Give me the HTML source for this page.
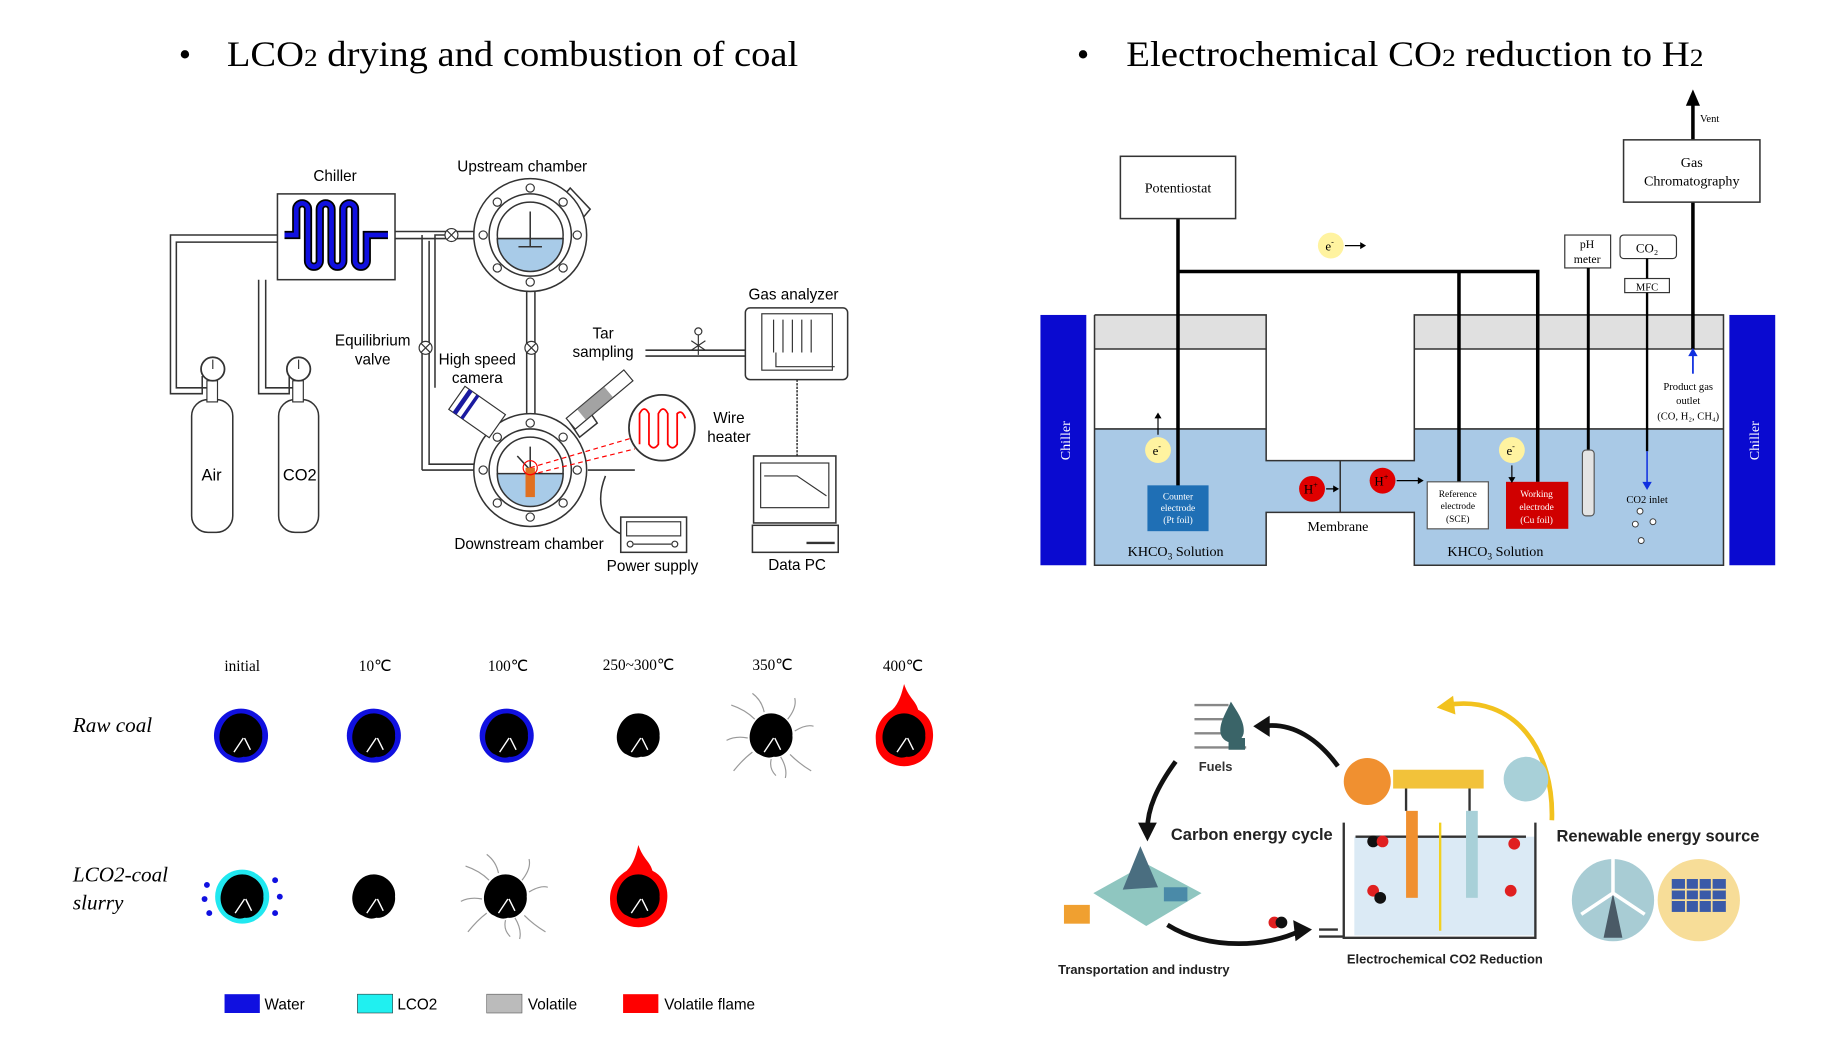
<!DOCTYPE html>
<html><head><meta charset="utf-8"><style>
html,body{margin:0;padding:0;background:#fff;overflow:hidden}
svg{display:block}
.s{font-family:"Liberation Sans",sans-serif}
.r{font-family:"Liberation Serif",serif}
</style></head><body>
<svg width="1834" height="1060" viewBox="0 0 1560 902" preserveAspectRatio="none" xmlns="http://www.w3.org/2000/svg">
<rect width="1560" height="902" fill="#fff"/>
<!-- titles -->
<text x="152" y="56" class="r" font-size="30">•</text>
<text x="193" y="56" class="r" font-size="31" textLength="486" lengthAdjust="spacingAndGlyphs">LCO<tspan font-size="22">2</tspan> drying and combustion of coal</text>
<text x="916" y="56" class="r" font-size="30">•</text>
<text x="958" y="56" class="r" font-size="31" textLength="491" lengthAdjust="spacingAndGlyphs">Electrochemical CO<tspan font-size="22">2</tspan> reduction to H<tspan font-size="22">2</tspan></text>

<!-- LEFT apparatus -->
<g fill="none" stroke="#333" stroke-width="1.3">
<path d="M236 200 H145 V335 H172 V320 M236 206 H150 V330 H176"/>
<path d="M220 238 V335 H246 V320 M226 238 V330 H250"/>
<path d="M336 197 H403 M336 203 H403"/>
<path d="M384 200 H370 V330 M359 200 V400 M359 400 H403 M365 205 V395 H403"/>
<path d="M448 248 V352 M455 248 V352"/>
<path d="M549 298 H634 M549 303 H634"/>
<path d="M678 323 V388" stroke-dasharray="2 1"/>
<path d="M500 400 H540 M515 405 C505 430 515 450 530 455"/>
</g>
<rect x="236" y="165" width="100" height="73" fill="#fff" stroke="#333" stroke-width="1.3"/>
<path d="M242 200 H252 V178 a5 5 0 0 1 10 0 V222 a5 5 0 0 0 10 0 V178 a5 5 0 0 1 10 0 V222 a5 5 0 0 0 10 0 V178 a5 5 0 0 1 10 0 V222 a5 5 0 0 0 10 0 V200 H330" fill="none" stroke="#000" stroke-width="7"/>
<path d="M242 200 H252 V178 a5 5 0 0 1 10 0 V222 a5 5 0 0 0 10 0 V178 a5 5 0 0 1 10 0 V222 a5 5 0 0 0 10 0 V178 a5 5 0 0 1 10 0 V222 a5 5 0 0 0 10 0 V200 H330" fill="none" stroke="#1010e0" stroke-width="4"/>
<text x="285" y="154" class="s" font-size="13" text-anchor="middle">Chiller</text>
<!-- cylinders -->
<rect x="163" y="340" width="35" height="113" rx="14" fill="#fff" stroke="#333" stroke-width="1.3"/>
<rect x="237" y="340" width="34" height="113" rx="14" fill="#fff" stroke="#333" stroke-width="1.3"/>
<rect x="176" y="324" width="9" height="18" fill="#fff" stroke="#333"/><rect x="249" y="324" width="9" height="18" fill="#fff" stroke="#333"/>
<circle cx="181" cy="314" r="10" fill="#fff" stroke="#333" stroke-width="1.5"/><circle cx="254" cy="314" r="10" fill="#fff" stroke="#333" stroke-width="1.5"/>
<path d="M181 314 V306 M254 314 V306" stroke="#333"/>
<text x="180" y="409" class="s" font-size="14" text-anchor="middle">Air</text>
<text x="255" y="409" class="s" font-size="14" text-anchor="middle">CO2</text>
<!-- chambers -->
<g stroke="#333" stroke-width="1.3" fill="#fff">
<path d="M485 160 L502 178 L492 190 L475 172Z"/>
<circle cx="451" cy="200" r="48"/><circle cx="451" cy="200" r="35"/><circle cx="451" cy="200" r="28"/>
<path d="M423 203 A28 28 0 0 0 479 203Z" fill="#a8cbe8"/>
<path d="M451 180 V210 M441 210 H461" fill="none"/>
<path d="M485 360 L500 348 L508 360 L493 372Z"/>
<circle cx="451" cy="400" r="48"/><circle cx="451" cy="400" r="35"/><circle cx="451" cy="400" r="28"/>
<path d="M423 403 A28 28 0 0 0 479 403Z" fill="#a8cbe8"/>
<path d="M451 380 V400 M451 400 L440 388" fill="none"/>
</g>
<g fill="#fff" stroke="#333"><circle cx="451" cy="160" r="3.5"/><circle cx="451" cy="240" r="3.5"/><circle cx="411" cy="200" r="3.5"/><circle cx="491" cy="200" r="3.5"/><circle cx="423" cy="172" r="3.5"/><circle cx="479" cy="172" r="3.5"/><circle cx="423" cy="228" r="3.5"/><circle cx="479" cy="228" r="3.5"/>
<circle cx="451" cy="360" r="3.5"/><circle cx="451" cy="440" r="3.5"/><circle cx="411" cy="400" r="3.5"/><circle cx="491" cy="400" r="3.5"/><circle cx="423" cy="372" r="3.5"/><circle cx="479" cy="372" r="3.5"/><circle cx="423" cy="428" r="3.5"/><circle cx="479" cy="428" r="3.5"/></g>
<rect x="447" y="398" width="8" height="25" fill="#e07020"/>
<circle cx="451" cy="398" r="6" fill="none" stroke="red"/>
<path d="M451 398 L540 372 M451 404 L540 382" stroke="red" stroke-dasharray="4 3"/>
<!-- valves -->
<g fill="#fff" stroke="#333"><circle cx="384" cy="200" r="5.5"/><circle cx="452" cy="296" r="5.5"/><circle cx="362" cy="296" r="5.5"/></g>
<path d="M380 196 l8 8 M388 196 l-8 8 M448 292 l8 8 M456 292 l-8 8 M358 292 l8 8 M366 292 l-8 8" stroke="#333"/>
<text x="389" y="146" class="s" font-size="13">Upstream chamber</text>
<text x="317" y="294" class="s" font-size="13" text-anchor="middle">Equilibrium</text>
<text x="317" y="310" class="s" font-size="13" text-anchor="middle">valve</text>
<text x="406" y="310" class="s" font-size="13" text-anchor="middle">High speed</text>
<text x="406" y="326" class="s" font-size="13" text-anchor="middle">camera</text>
<text x="513" y="288" class="s" font-size="13" text-anchor="middle">Tar</text>
<text x="513" y="304" class="s" font-size="13" text-anchor="middle">sampling</text>
<text x="450" y="467" class="s" font-size="13" text-anchor="middle">Downstream chamber</text>
<!-- camera -->
<g transform="rotate(35 405 350)"><rect x="385" y="338" width="42" height="24" fill="#fff" stroke="#333"/><rect x="389" y="338" width="4" height="24" fill="#1a1aa0"/><rect x="397" y="338" width="3" height="24" fill="#1a1aa0"/></g>
<!-- tar tube -->
<g transform="rotate(-40 510 340)"><rect x="478" y="334" width="64" height="12" fill="#fff" stroke="#333"/><rect x="490" y="334" width="30" height="12" fill="#666" opacity=".6"/></g>
<path d="M594 285 V302 M588 290 l12 8 M600 290 l-12 8" stroke="#333"/><circle cx="594" cy="282" r="3" fill="#fff" stroke="#333"/>
<!-- wire heater -->
<circle cx="563" cy="364" r="28" fill="#fff" stroke="#333" stroke-width="1.5"/>
<path d="M544 378 V352 Q548 344 552 352 V378 Q556 384 560 378 V352 Q564 344 568 352 V378 Q572 384 576 378 V352 Q580 348 583 356" fill="none" stroke="red" stroke-width="1.5"/>
<text x="620" y="360" class="s" font-size="13" text-anchor="middle">Wire</text>
<text x="620" y="376" class="s" font-size="13" text-anchor="middle">heater</text>
<!-- gas analyzer -->
<text x="675" y="255" class="s" font-size="13" text-anchor="middle">Gas analyzer</text>
<rect x="634" y="262" width="87" height="61" rx="4" fill="#fff" stroke="#333" stroke-width="1.3"/>
<rect x="648" y="267" width="60" height="48" fill="#fff" stroke="#333"/>
<path d="M658 272 V300 M666 272 V300 M674 272 V300 M682 272 V300 M690 272 V300 M660 300 V312 H710" fill="none" stroke="#333"/>
<!-- data PC -->
<rect x="641" y="388" width="70" height="57" fill="#fff" stroke="#333" stroke-width="1.3"/>
<rect x="647" y="394" width="58" height="38" fill="#fff" stroke="#333"/>
<path d="M650 405 H678 L703 422" fill="none" stroke="#333"/>
<rect x="640" y="447" width="73" height="23" fill="#fff" stroke="#333" stroke-width="1.3"/>
<path d="M686 462 H710" stroke="#333" stroke-width="2"/>
<text x="678" y="485" class="s" font-size="13" text-anchor="middle">Data PC</text>
<!-- power supply -->
<rect x="528" y="440" width="56" height="30" fill="#fff" stroke="#333" stroke-width="1.3"/>
<rect x="533" y="444" width="46" height="12" fill="#fff" stroke="#333"/>
<circle cx="536" cy="463" r="2.5" fill="none" stroke="#333"/><circle cx="574" cy="463" r="2.5" fill="none" stroke="#333"/><path d="M539 463 H571" stroke="#333"/>
<text x="555" y="486" class="s" font-size="13" text-anchor="middle">Power supply</text>

<!-- coal states -->
<g class="r" font-size="13" text-anchor="middle">
<text x="206" y="571">initial</text><text x="319" y="571">10℃</text><text x="432" y="571">100℃</text><text x="543" y="570">250~300℃</text><text x="657" y="570">350℃</text><text x="768" y="571">400℃</text>
</g>
<text x="62" y="623" class="r" font-size="18" font-style="italic">Raw coal</text>
<text x="62" y="750" class="r" font-size="18" font-style="italic">LCO2-coal</text>
<text x="62" y="774" class="r" font-size="18" font-style="italic">slurry</text>
<defs>
<g id="coal"><path d="M0 -19 C10 -19 19 -10 18 0 C19 8 12 19 2 18 C-4 20 -8 17 -12 15 C-18 10 -20 2 -17 -6 C-14 -14 -8 -19 0 -19Z" fill="#000"/><path d="M-6 14 L2 2 M8 12 L3 2" stroke="#fff" stroke-width="1.2"/></g>
<g id="smoke" fill="none" stroke="#999" stroke-width="1"><path d="M-14 -14 Q-22 -22 -34 -26 M14 -14 Q22 -24 20 -32 M20 -4 Q30 -10 36 -8 M16 16 Q24 24 34 30 M-16 14 Q-24 20 -32 30 M-20 2 Q-30 0 -38 4 M0 20 Q-2 28 4 34 M-6 -20 Q-8 -30 -16 -36 M8 18 Q14 28 12 36"/></g>
<g id="flame"><path d="M0 -44 C4 -32 10 -30 12 -22 C24 -16 26 -4 24 6 C22 20 10 26 0 26 C-12 26 -24 18 -24 4 C-25 -6 -20 -16 -10 -22 C-4 -28 -2 -36 0 -44Z" fill="#ff0000"/></g>
</defs>
<g transform="translate(205,626)"><circle r="23" fill="#1010e0"/><use href="#coal"/></g>
<g transform="translate(318,626)"><circle r="23" fill="#1010e0"/><use href="#coal"/></g>
<g transform="translate(431,626)"><circle r="23" fill="#1010e0"/><use href="#coal"/></g>
<g transform="translate(543,626)"><use href="#coal"/></g>
<g transform="translate(656,626)"><use href="#smoke"/><use href="#coal"/></g>
<g transform="translate(769,626)"><use href="#flame"/><use href="#coal"/></g>
<g transform="translate(206,763)"><circle r="23" fill="#20e8f0"/><use href="#coal"/>
<g fill="#1010e0"><circle cx="-30" cy="-10" r="2.5"/><circle cx="-32" cy="2" r="2.5"/><circle cx="-28" cy="14" r="2.5"/><circle cx="28" cy="-14" r="2.5"/><circle cx="32" cy="0" r="2.5"/><circle cx="28" cy="14" r="2.5"/></g></g>
<g transform="translate(318,763)"><use href="#coal"/></g>
<g transform="translate(430,763)"><use href="#smoke"/><use href="#coal"/></g>
<g transform="translate(543,763)"><use href="#flame"/><use href="#coal"/></g>
<!-- legend -->
<rect x="191" y="846" width="30" height="16" fill="#1010e0"/><text x="225" y="859" class="s" font-size="13">Water</text>
<rect x="304" y="846" width="30" height="16" fill="#20f0f0" stroke="#333" stroke-width=".5"/><text x="338" y="859" class="s" font-size="13">LCO2</text>
<rect x="414" y="846" width="30" height="16" fill="#bbb" stroke="#555" stroke-width=".5"/><text x="449" y="859" class="s" font-size="13">Volatile</text>
<rect x="530" y="846" width="30" height="16" fill="#ff0000"/><text x="565" y="859" class="s" font-size="13">Volatile flame</text>

<!-- RIGHT electrochemical cell -->
<rect x="885" y="268" width="39" height="213" fill="#0a0ad0"/>
<rect x="1471" y="268" width="39" height="213" fill="#0a0ad0"/>
<text transform="translate(910,375) rotate(-90)" class="r" font-size="12" fill="#fff" text-anchor="middle">Chiller</text>
<text transform="translate(1496,375) rotate(-90)" class="r" font-size="12" fill="#fff" text-anchor="middle">Chiller</text>
<path d="M931 365 H1077 V392 H1203 V365 H1466 V481 H1203 V436 H1077 V481 H931Z" fill="#a9c9e6"/>
<rect x="931" y="268" width="146" height="29" fill="#e0e0e0"/>
<rect x="1203" y="268" width="263" height="29" fill="#e0e0e0"/>
<g fill="none" stroke="#333" stroke-width="1.3">
<path d="M931 268 V481 H1077 V436 H1203 V481 H1466 V268 H1203 V392 H1077 V268 H931"/>
<path d="M931 297 H1077 M1203 297 H1466 M931 365 H1077 M1203 365 H1466"/>
<path d="M1140 392 V436"/>
</g>
<path d="M1002 186 V414 M1002 231 H1308 V410 M1241 231 V410" fill="none" stroke="#000" stroke-width="3"/>
<rect x="953" y="133" width="98" height="53" fill="#fff" stroke="#333" stroke-width="1.3"/>
<text x="1002" y="164" class="r" font-size="12" text-anchor="middle">Potentiostat</text>
<path d="M1440 297 V172 M1440 119 V88" stroke="#000" stroke-width="3"/>
<rect x="1381" y="119" width="116" height="53" fill="#fff" stroke="#333" stroke-width="1.3"/>
<text x="1439" y="142" class="r" font-size="12" text-anchor="middle">Gas</text>
<text x="1439" y="158" class="r" font-size="12" text-anchor="middle">Chromatography</text>
<path d="M1434 90 L1440 76 L1446 90Z" fill="#000"/>
<text x="1446" y="104" class="r" font-size="9">Vent</text>
<path d="M1440 318 V302" stroke="#1030e0" stroke-width="1.5"/><path d="M1436 303 L1440 296 L1444 303Z" fill="#1030e0"/>
<text x="1436" y="332" class="r" font-size="9" text-anchor="middle">Product gas</text>
<text x="1436" y="344" class="r" font-size="9" text-anchor="middle">outlet</text>
<text x="1436" y="357" class="r" font-size="9" text-anchor="middle">(CO, H₂, CH₄)</text>
<!-- pH -->
<rect x="1331" y="200" width="39" height="28" fill="#fff" stroke="#333"/>
<text x="1350" y="211" class="r" font-size="10" text-anchor="middle">pH</text>
<text x="1350" y="224" class="r" font-size="10" text-anchor="middle">meter</text>
<path d="M1351 228 V384" stroke="#000" stroke-width="2.5"/>
<rect x="1346" y="383" width="10" height="56" rx="3" fill="#e4e4e4" stroke="#555"/>
<!-- CO2 -->
<rect x="1378" y="200" width="48" height="20" rx="3" fill="#fff" stroke="#333"/>
<text x="1401" y="215" class="r" font-size="11" text-anchor="middle">CO₂</text>
<rect x="1382" y="237" width="38" height="12" fill="#fff" stroke="#333"/>
<text x="1401" y="247" class="r" font-size="9" text-anchor="middle">MFC</text>
<path d="M1401 220 V237 M1401 249 V384" stroke="#000" stroke-width="2"/>
<path d="M1401 384 V412" stroke="#1030e0" stroke-width="1.3"/><path d="M1397 410 L1401 417 L1405 410Z" fill="#1030e0"/>
<text x="1401" y="428" class="r" font-size="9" text-anchor="middle">CO2 inlet</text>
<g fill="#fff" stroke="#333" stroke-width=".8"><circle cx="1395" cy="435" r="2.5"/><circle cx="1391" cy="446" r="2.5"/><circle cx="1406" cy="444" r="2.5"/><circle cx="1396" cy="460" r="2.5"/></g>
<!-- electrodes -->
<rect x="976" y="413" width="52" height="39" fill="#1f6fb5"/>
<g class="r" font-size="8" fill="#fff" text-anchor="middle"><text x="1002" y="425">Counter</text><text x="1002" y="435">electrode</text><text x="1002" y="445">(Pt foil)</text></g>
<rect x="1214" y="410" width="52" height="40" fill="#fff" stroke="#555"/>
<g class="r" font-size="8" text-anchor="middle"><text x="1240" y="423">Reference</text><text x="1240" y="433">electrode</text><text x="1240" y="444">(SCE)</text></g>
<rect x="1281" y="410" width="53" height="40" fill="#d00000"/>
<g class="r" font-size="8" fill="#fff" text-anchor="middle"><text x="1307" y="423">Working</text><text x="1307" y="434">electrode</text><text x="1307" y="445">(Cu foil)</text></g>
<!-- ions -->
<g class="r" font-size="11" text-anchor="middle">
<circle cx="1132" cy="209" r="11" fill="#fff3a0"/><text x="1131" y="213">e<tspan font-size="7" dy="-5">-</tspan></text>
<circle cx="985" cy="383" r="11" fill="#fff3a0"/><text x="984" y="387">e<tspan font-size="7" dy="-5">-</tspan></text>
<circle cx="1286" cy="383" r="11" fill="#fff3a0"/><text x="1285" y="387">e<tspan font-size="7" dy="-5">-</tspan></text>
<circle cx="1116" cy="416" r="11" fill="#e00000"/><text x="1115" y="420">H<tspan font-size="7" dy="-5">+</tspan></text>
<circle cx="1176" cy="409" r="11" fill="#e00000"/><text x="1175" y="413">H<tspan font-size="7" dy="-5">+</tspan></text>
</g>
<g stroke="#000" fill="none" stroke-width="1"><path d="M1144 209 H1160 M1128 416 H1137 M1188 409 H1209 M985 370 V354 M1286 396 V408"/></g>
<path d="M1157 206 L1162 209 L1157 212Z M1134 413 L1139 416 L1134 419Z M1206 406 L1211 409 L1206 412Z M982 356 L985 351 L988 356Z M1283 406 L1286 411 L1289 406Z" fill="#000"/>
<text x="1138" y="452" class="r" font-size="12" text-anchor="middle">Membrane</text>
<text x="1000" y="473" class="r" font-size="12" text-anchor="middle">KHCO<tspan font-size="8" dy="3">3</tspan><tspan dy="-3"> Solution</tspan></text>
<text x="1272" y="473" class="r" font-size="12" text-anchor="middle">KHCO<tspan font-size="8" dy="3">3</tspan><tspan dy="-3"> Solution</tspan></text>

<!-- carbon energy cycle -->
<g>
<path d="M1016 600 H1045 M1016 612 H1045 M1016 624 H1045 M1016 636 H1060" stroke="#888" stroke-width="2"/>
<path d="M1047 597 C1054 608 1058 614 1058 622 a10 10 0 0 1 -20 0 C1038 614 1042 608 1047 597Z" fill="#3a6468"/>
<rect x="1045" y="628" width="14" height="10" fill="#3a6468"/>
<text x="1034" y="656" class="s" font-size="11" font-weight="bold" text-anchor="middle" fill="#333">Fuels</text>
<path d="M1138 652 C1122 630 1100 614 1074 618" fill="none" stroke="#111" stroke-width="4"/><path d="M1066 618 L1080 609 L1080 627Z" fill="#111"/>
<path d="M1000 648 C984 670 976 688 976 706" fill="none" stroke="#111" stroke-width="4"/><path d="M968 700 L976 716 L984 700Z" fill="#111"/>
<path d="M993 787 C1030 810 1080 805 1106 792" fill="none" stroke="#111" stroke-width="4"/><path d="M1100 783 L1116 791 L1102 801Z" fill="#111"/>
<path d="M1320 698 C1322 640 1290 590 1230 600" fill="none" stroke="#f2c21e" stroke-width="4"/><path d="M1236 592 L1222 602 L1238 608Z" fill="#f2c21e"/>
<text x="996" y="715" class="s" font-size="14" font-weight="bold" fill="#222">Carbon energy cycle</text>
<text x="1324" y="716" class="s" font-size="14" font-weight="bold" fill="#222">Renewable energy source</text>
<path d="M930 760 L975 735 L1022 760 L975 788Z" fill="#8fc6c0"/>
<path d="M955 757 L970 720 L985 755Z" fill="#4a6e80"/>
<rect x="990" y="755" width="20" height="12" fill="#4a8aa8"/>
<rect x="905" y="770" width="22" height="16" fill="#f0a030"/>
<text x="973" y="829" class="s" font-size="11" font-weight="bold" text-anchor="middle" fill="#222">Transportation and industry</text>
<rect x="1152" y="712" width="154" height="84" fill="#dbeaf5"/>
<path d="M1143 700 V798 H1306 V700 M1153 712 H1298" fill="none" stroke="#333" stroke-width="2"/>
<path d="M1122 791 H1138 M1122 797 H1143" stroke="#333" stroke-width="2"/>
<circle cx="1163" cy="665" r="20" fill="#f09030"/>
<rect x="1185" y="655" width="77" height="16" fill="#f2c23a"/>
<circle cx="1298" cy="663" r="19" fill="#a8d0d8"/>
<path d="M1196 671 V690 M1250 671 V690" stroke="#333" stroke-width="2"/>
<rect x="1196" y="690" width="10" height="74" fill="#f09030"/>
<rect x="1247" y="690" width="10" height="74" fill="#a8d0d8"/>
<path d="M1225 700 V792" stroke="#f2d020" stroke-width="2"/>
<circle cx="1168" cy="716" r="5" fill="#111"/><circle cx="1176" cy="716" r="5" fill="#e02020"/>
<circle cx="1288" cy="718" r="5" fill="#e02020"/><circle cx="1285" cy="758" r="5" fill="#e02020"/>
<circle cx="1168" cy="758" r="5" fill="#e02020"/><circle cx="1174" cy="764" r="5" fill="#111"/>
<circle cx="1084" cy="785" r="5" fill="#e02020"/><circle cx="1090" cy="785" r="5" fill="#111"/>
<text x="1229" y="820" class="s" font-size="11" font-weight="bold" text-anchor="middle" fill="#222">Electrochemical CO2 Reduction</text>
<circle cx="1372" cy="766" r="35" fill="#a8ccd4"/>
<path d="M1364 798 L1372 760 L1380 798Z" fill="#4a5a66"/>
<path d="M1372 760 V728 M1372 760 L1345 778 M1372 760 L1399 778" stroke="#fff" stroke-width="3"/>
<circle cx="1445" cy="766" r="35" fill="#f7dd98"/>
<rect x="1422" y="748" width="46" height="28" fill="#3a5aa8"/>
<path d="M1422 757 H1468 M1422 766 H1468 M1434 748 V776 M1445 748 V776 M1456 748 V776" stroke="#f7dd98" stroke-width="1.5"/>
</g>
</svg>
</body></html>
